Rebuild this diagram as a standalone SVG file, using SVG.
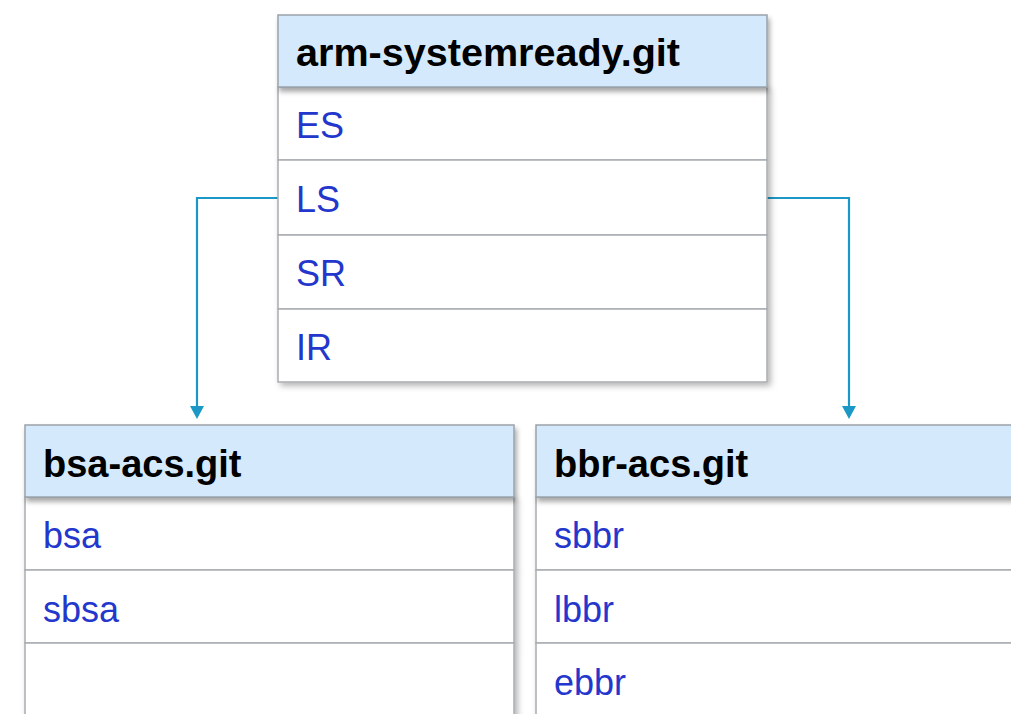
<svg xmlns="http://www.w3.org/2000/svg" width="1011" height="714" viewBox="0 0 1011 714">
<style>
.hdr{fill:#d4eafc;stroke:#9aa3ab;stroke-width:1.5}
.row{fill:#ffffff;stroke:#a9adb1;stroke-width:1.5}
.ht{font-family:"Liberation Sans",Arial,sans-serif;font-weight:bold;font-size:38px;fill:#000}
.rt{font-family:"Liberation Sans",Arial,sans-serif;font-size:36px;fill:#2437cc}
.conn{fill:none;stroke:#1b98c6;stroke-width:2.2}
</style>
<defs>
<filter id="sh" x="-5%" y="-5%" width="115%" height="130%">
<feDropShadow dx="3" dy="3" stdDeviation="3" flood-color="#000" flood-opacity="0.3"/>
</filter>
<filter id="hsh" x="-5%" y="-10%" width="115%" height="140%">
<feDropShadow dx="2" dy="4" stdDeviation="2.5" flood-color="#000" flood-opacity="0.35"/>
</filter>
</defs>
<rect width="1011" height="714" fill="#ffffff"/>
<g id="connectors">
<path class="conn" d="M278,198 H197 V407"/>
<path d="M190,406 L204,406 L197,419 Z" fill="#1b98c6"/>
<path class="conn" d="M767,198 H849 V407"/>
<path d="M842,406 L856,406 L849,419 Z" fill="#1b98c6"/>
</g>
<g id="arm-systemready">
<g filter="url(#sh)">
<rect class="row" x="278" y="87" width="489" height="73"/>
<rect class="row" x="278" y="160" width="489" height="75"/>
<rect class="row" x="278" y="235" width="489" height="74"/>
<rect class="row" x="278" y="309" width="489" height="73"/>
</g>
<rect class="hdr" x="278" y="15" width="489" height="72" filter="url(#hsh)"/>
<text class="ht" x="296" y="66" textLength="384" lengthAdjust="spacingAndGlyphs">arm-systemready.git</text>
<text class="rt" x="296" y="138">ES</text>
<text class="rt" x="296" y="212">LS</text>
<text class="rt" x="296" y="286">SR</text>
<text class="rt" x="296" y="360">IR</text>
</g>
<g id="bsa-acs">
<g filter="url(#sh)">
<rect class="row" x="25" y="497" width="489" height="73"/>
<rect class="row" x="25" y="570" width="489" height="73"/>
<rect class="row" x="25" y="643" width="489" height="80"/>
</g>
<rect class="hdr" x="25" y="425" width="489" height="72" filter="url(#hsh)"/>
<text class="ht" x="43" y="477">bsa-acs.git</text>
<text class="rt" x="43" y="548">bsa</text>
<text class="rt" x="43" y="622">sbsa</text>
</g>
<g id="bbr-acs">
<g filter="url(#sh)">
<rect class="row" x="536" y="497" width="489" height="73"/>
<rect class="row" x="536" y="570" width="489" height="73"/>
<rect class="row" x="536" y="643" width="489" height="80"/>
</g>
<rect class="hdr" x="536" y="425" width="489" height="72" filter="url(#hsh)"/>
<text class="ht" x="554" y="477">bbr-acs.git</text>
<text class="rt" x="554" y="548">sbbr</text>
<text class="rt" x="554" y="622">lbbr</text>
<text class="rt" x="554" y="695">ebbr</text>
</g>
</svg>
